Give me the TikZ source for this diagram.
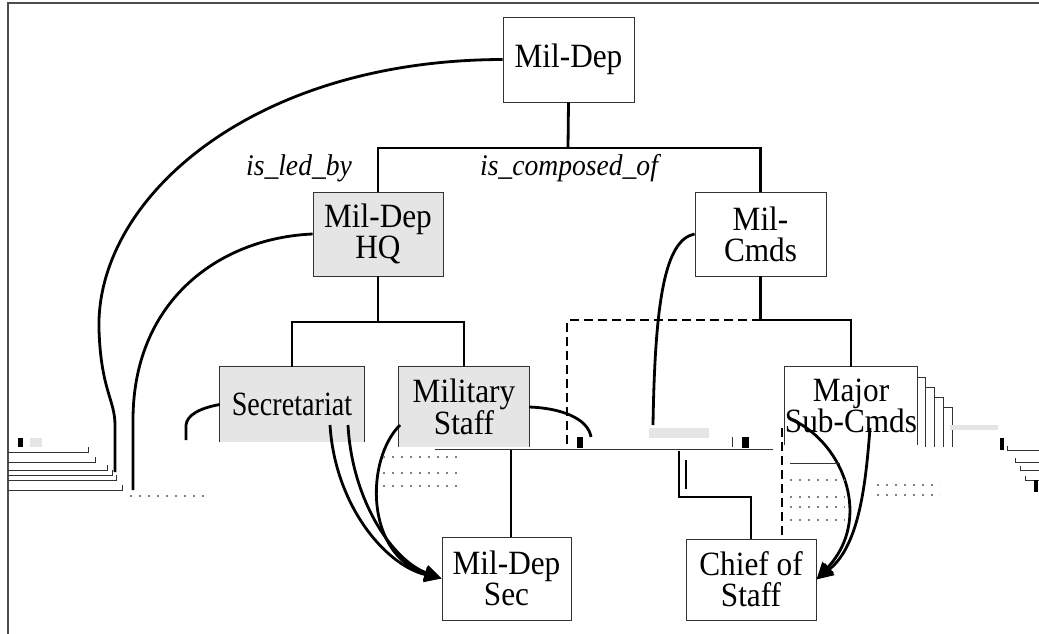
\documentclass[tikz,border=0pt]{standalone}
\usepackage{fontspec}
\setmainfont{Liberation Serif}[FakeStretch=0.92]
\usetikzlibrary{arrows.meta}
\definecolor{boxgray}{gray}{0.9}
\definecolor{edge}{gray}{0.2}
\begin{document}
\begin{tikzpicture}[x=1pt,y=-1pt,
  nodefont/.style={font=\fontsize{34}{31}\selectfont, align=center, inner sep=0pt},
  box/.style={nodefont, draw=edge, line width=0.9pt, fill=white},
  graybox/.style={box, fill=boxgray},
  openbox/.style={nodefont, draw=none},
  conn/.style={line width=2.8pt, black},
  dconn/.style={conn, dash pattern=on 9pt off 5pt},
  arr/.style={conn, -{Triangle[length=17pt,width=15pt]}},
  rel/.style={font=\fontsize{30}{30}\selectfont\itshape, inner sep=0pt},
  thinl/.style={line width=0.8pt, edge},
  dots/.style={line width=1.2pt, gray, dash pattern=on 2pt off 7pt},
  frame/.style={line width=1.6pt, gray!60!black}]

\useasboundingbox (0,0) rectangle (1039,634);
\draw[frame] (8,634) -- (8,3) -- (1039,3);

% ---- nodes ----
\node[box, minimum width=131pt, minimum height=85pt] (mildep) at (568.5,59.5) {Mil-Dep};
\node[graybox, minimum width=130pt, minimum height=84pt] (hq) at (378,234) {Mil-Dep\\HQ};
\node[box, minimum width=131pt, minimum height=84pt] (cmds) at (760.5,234) {Mil-\\Cmds};

% Secretariat (open bottom)
\node[openbox, fill=boxgray, minimum width=144pt, minimum height=75pt] (sec) at (292,404.5) {\scalebox{0.9}[1]{Secretariat}};
\draw[thinl] (sec.south west) -- (sec.north west) -- (sec.north east) -- (sec.south east);

% Military Staff (open bottom)
\node[openbox, fill=boxgray, minimum width=130pt, minimum height=80pt] (mst) at (464,407) {Military\\Staff};
\draw[thinl] (mst.south west) -- (mst.north west) -- (mst.north east) -- (mst.south east);

% Major Sub-Cmds with stacked frames
\foreach \i in {4,3,2,1}{
  \draw[thinl] ({916+9*(\i-1)},{367+10*\i}) -- ({916+9*\i},{367+10*\i}) -- ({916+9*\i},447);
}
\node[openbox, fill=white, minimum width=130pt, minimum height=78pt] (msc) at (851,406) {Major\\Sub-Cmds};
\draw[thinl] (msc.south west) -- (msc.north west) -- (msc.north east) -- (msc.south east);

\node[box, minimum width=129pt, minimum height=83pt] (mds) at (506.5,578.5) {Mil-Dep\\Sec};
\node[box, minimum width=130pt, minimum height=81pt] (cos) at (751,579.5) {Chief of\\Staff};

% ---- relation labels ----
\node[rel, anchor=base] (led) at (299,175) {is\_led\_by};
\node[rel, anchor=base] (comp) at (569,175) {is\_composed\_of};

% ---- tree connectors ----
\coordinate (j1) at (568,148);
\draw[conn] (mildep.south) -- (j1);
\draw[conn] (hq.north) |- (j1) -| (cmds.north);

\coordinate (j2) at (378,322);
\draw[conn] (hq.south) -- (j2);
\draw[conn] (sec.north) |- (j2) -| (mst.north);

\coordinate (j3) at (760.5,320);
\coordinate (dend) at (567,447);
\draw[conn] (cmds.south) -- (j3) -| (msc.north);
\draw[dconn] (j3) -| (dend);

% ---- mid band ----
\coordinate (b1) at (435,449);
\coordinate (b2) at (773,449);
\draw[thinl] (b1) -- (b2);
\fill[boxgray] (649,428) rectangle (709,438);

\coordinate (c1) at (511,450);
\draw[conn] (c1) -- (c1 |- mds.north);
\coordinate (c2) at (679,451);
\coordinate (c3) at (751,497);
\draw[conn] (c2) |- (c3) -- (c3 |- cos.north);
\draw[conn] (686,460) -- (686,489);
\coordinate (c4) at (782,428);
\draw[dconn] (c4) -- (c4 |- cos.north);

% ---- long curves on the left ----
\coordinate (l1) at (115,472);
\draw[conn] (mildep.west) .. controls (250,60) and (95,200) .. (99,330)
  .. controls (101,390) and (115,400) .. (115,425) -- (l1);
\coordinate (l2) at (133,490);
\draw[conn] (hq.west) .. controls (220,238) and (133,300) .. (133,420) -- (l2);

\coordinate (l3) at (653,425);
\draw[conn] (cmds.west) .. controls (665,240) and (655,300) .. (l3);

\coordinate (l4) at (186,440);
\draw[conn] (sec.west) .. controls (200,408) and (187,415) .. (186,425) -- (l4);
\coordinate (l5) at (591,437);
\draw[conn] (mst.east) .. controls (560,408) and (588,418) .. (l5);
\fill (577,437) rectangle (583,448);
\fill (742,437) rectangle (749,448);
\draw[thinl] (732,437) -- (732,447);

% ---- arrows ----
\coordinate (s1) at (330,425);
\coordinate (s2) at (348,425);
\coordinate (s3) at (400,425);
\draw[arr] (s1) .. controls (335,505) and (385,565) .. (mds.west);
\draw[arr] (s2) .. controls (352,500) and (392,560) .. (mds.west);
\draw[arr] (s3) .. controls (365,460) and (365,555) .. (mds.west);

\coordinate (t1) at (793,420);
\coordinate (t2) at (870,428);
\draw[arr] (t1) .. controls (845,445) and (872,520) .. (cos.east);
\draw[arr] (t2) .. controls (866,480) and (860,545) .. (cos.east);

% ---- stacked fragment lines at the left ----
\foreach \y/\x in {452/88, 462/95, 470/107, 475/112, 480/116, 490/122}{
  \draw[thinl] (8,\y) -- (\x,\y) -- (\x,\y-5);
}
\fill (18,438) rectangle (23,447);
\fill[boxgray] (30,438) rectangle (42,447);

% ---- stacked fragment lines at the right ----
\foreach \y/\x in {450/1007, 462/1015, 470/1020, 480/1025}{
  \draw[thinl] (\x,\y-4) -- (\x,\y) -- (1039,\y);
}
\fill (1034,480) rectangle (1038,492);
\fill (1000,438) rectangle (1004,450);
\fill[boxgray] (950,425) rectangle (998,430);
\draw[thinl] (790,463) -- (840,463);

% ---- dotted rows ----
\foreach \y in {457,473,486}{ \draw[dots] (383,\y) -- (458,\y); }
\foreach \y in {480,497,507,520}{ \draw[dots] (790,\y) -- (845,\y); }
\foreach \y in {485,495}{ \draw[dots] (877,\y) -- (940,\y); }
\draw[dots] (130,496) -- (205,496);
\end{tikzpicture}
\end{document}
